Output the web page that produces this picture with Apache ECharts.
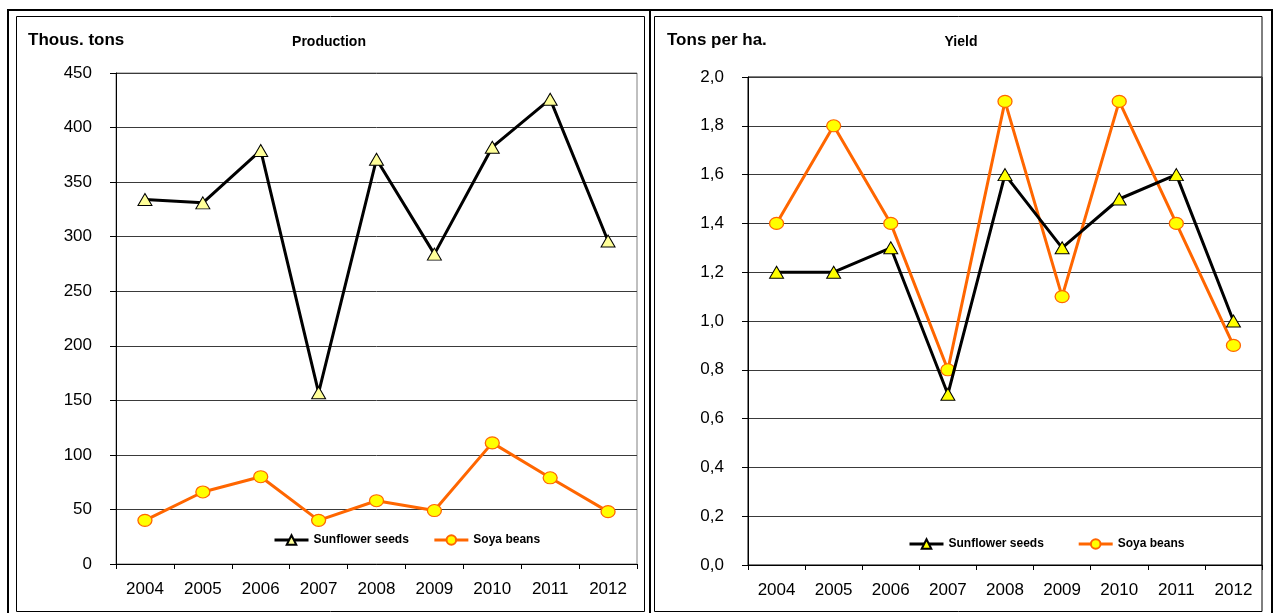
<!DOCTYPE html>
<html>
<head>
<meta charset="utf-8">
<title>Production and yield</title>
<script src="https://cdn.jsdelivr.net/npm/echarts@6/dist/echarts.min.js"></script>
<style>
  html, body { margin: 0; padding: 0; background: #fff; }
  #chart { width: 1274px; height: 613px; }
</style>
</head>
<body>
<div id="chart"></div>
<script>
  // data
  const years = ['2004', '2005', '2006', '2007', '2008', '2009', '2010', '2011', '2012']
  const prodSunflower = [334, 331, 379, 157, 371, 284, 382, 426, 296]
  const prodSoya = [40, 66, 80, 40, 58, 49, 111, 79, 48]
  const yieldSunflower = [1.2, 1.2, 1.3, 0.7, 1.6, 1.3, 1.5, 1.6, 1.0]
  const yieldSoya = [1.4, 1.8, 1.4, 0.8, 1.9, 1.1, 1.9, 1.4, 0.9]

  const font = "'Liberation Sans', Arial, sans-serif"

  function xAxis (gridIndex) {
    return {
      type: 'category',
      gridIndex: gridIndex,
      data: years,
      boundaryGap: true,
      axisLine: { lineStyle: { color: '#000', width: 1 } },
      axisTick: { show: true, length: 5, lineStyle: { color: '#000' } },
      axisLabel: { color: '#000', fontSize: 17, fontFamily: font, margin: 17 },
      splitLine: { show: false }
    }
  }

  function yAxis (gridIndex, max, interval, fmt) {
    return {
      type: 'value',
      gridIndex: gridIndex,
      min: 0,
      max: max,
      interval: interval,
      axisLine: { show: true, lineStyle: { color: '#000', width: 1 } },
      axisTick: { show: true, length: 6, lineStyle: { color: '#000' } },
      axisLabel: { color: '#000', fontSize: 17, fontFamily: font, margin: 24, formatter: fmt },
      splitLine: { show: true, lineStyle: { color: '#3a3a3a', width: 1 } }
    }
  }

  function sunflower (name, data, idx, fill) {
    return {
      name: name,
      type: 'line',
      xAxisIndex: idx,
      yAxisIndex: idx,
      data: data,
      symbol: 'triangle',
      symbolSize: [14, 12],
      lineStyle: { color: '#000', width: 3 },
      itemStyle: { color: fill, borderColor: '#000', borderWidth: 1 },
      z: 3
    }
  }

  function soya (name, data, idx) {
    return {
      name: name,
      type: 'line',
      xAxisIndex: idx,
      yAxisIndex: idx,
      data: data,
      symbol: 'circle',
      symbolSize: [14, 12],
      lineStyle: { color: '#ff6600', width: 3 },
      itemStyle: { color: '#ffff00', borderColor: '#ff6600', borderWidth: 1.2 },
      z: 2
    }
  }

  const legendText = { color: '#000', fontSize: 12, fontWeight: 'bold', fontFamily: font }

  const chart = echarts.init(document.getElementById('chart'))
  chart.setOption({
    animation: false,
    backgroundColor: '#fff',
    title: [
      { text: 'Thous. tons', left: 23, top: 27, textStyle: { fontSize: 17, fontWeight: 'bold', fontFamily: font, color: '#000' } },
      { text: 'Production', left: 324, top: 30, textAlign: 'center', textStyle: { fontSize: 14, fontWeight: 'bold', fontFamily: font, color: '#000' } },
      { text: 'Tons per ha.', left: 662, top: 27, textStyle: { fontSize: 17, fontWeight: 'bold', fontFamily: font, color: '#000' } },
      { text: 'Yield', left: 956, top: 30, textAlign: 'center', textStyle: { fontSize: 14, fontWeight: 'bold', fontFamily: font, color: '#000' } }
    ],
    legend: [
      {
        left: 268, top: 529, itemWidth: 34, itemHeight: 12, itemGap: 24,
        textStyle: legendText, selectedMode: false,
        lineStyle: { width: 3 },
        data: ['Sunflower seeds', 'Soya beans']
      },
      {
        left: 903, top: 533, itemWidth: 34, itemHeight: 12, itemGap: 30,
        textStyle: legendText, selectedMode: false,
        lineStyle: { width: 3 },
        data: ['Sunflower seeds ', 'Soya beans ']
      }
    ],
    grid: [
      { left: 116, right: 637, top: 73, bottom: 49, show: true, borderColor: '#808080', borderWidth: 1 },
      { left: 748, right: 12, top: 77, bottom: 48, show: true, borderColor: '#000', borderWidth: 1 }
    ],
    xAxis: [xAxis(0), xAxis(1)],
    yAxis: [
      yAxis(0, 450, 50),
      yAxis(1, 2, 0.2, v => v.toFixed(1).replace('.', ','))
    ],
    series: [
      sunflower('Sunflower seeds', prodSunflower, 0, '#ffff99'),
      soya('Soya beans', prodSoya, 0),
      sunflower('Sunflower seeds ', yieldSunflower, 1, '#ffff00'),
      soya('Soya beans ', yieldSoya, 1)
    ],
    // panel frames
    graphic: [
      { type: 'rect', shape: { x: 8, y: 10, width: 1264, height: 620 }, style: { fill: 'none', stroke: '#000', lineWidth: 2 }, silent: true },
      { type: 'line', shape: { x1: 650, y1: 10, x2: 650, y2: 620 }, style: { stroke: '#000', lineWidth: 2 }, silent: true },
      { type: 'rect', shape: { x: 16.5, y: 16.5, width: 628, height: 595 }, style: { fill: 'none', stroke: '#000', lineWidth: 1 }, silent: true },
      { type: 'rect', shape: { x: 654.5, y: 16.5, width: 607.5, height: 595 }, style: { fill: 'none', stroke: '#000', lineWidth: 1 }, silent: true }
    ]
  })
</script>
</body>
</html>
